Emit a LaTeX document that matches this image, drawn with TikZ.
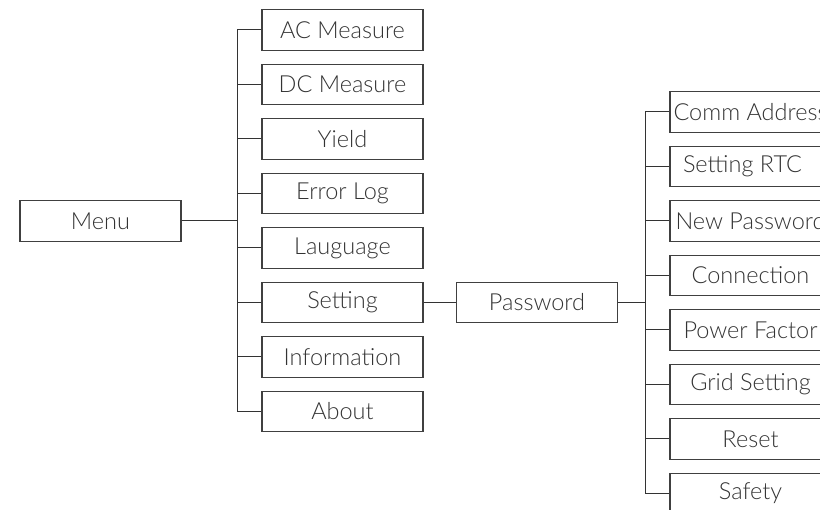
\documentclass[tikz,border=0pt]{standalone}
\usepackage{fontspec}
\setmainfont{Lato Light}
\begin{document}
\begin{tikzpicture}[x=1pt,y=-1pt,
  box/.style={draw=black!75,line width=1.1pt,minimum width=161pt,minimum height=40.5pt,inner sep=0pt,text=black!80,font=\fontsize{23.5}{26}\selectfont},
  link/.style={draw=black!80,line width=1pt}]
\clip (0,0) rectangle (820,510);
\useasboundingbox (0,0) rectangle (820,510);
% level 0
\node[box] (menu) at (100.5,221) {Menu};
% level 1
\node[box] (ac) at (342.5,30) {AC Measure};
\node[box] (dc) at (342.5,84.5) {DC Measure};
\node[box] (yield) at (342.5,139) {Yield};
\node[box] (err) at (342.5,193.5) {Error Log};
\node[box] (lang) at (342.5,248) {Lauguage};
\node[box] (set) at (342.5,302.5) {Setting};
\node[box] (info) at (342.5,357) {Information};
\node[box] (about) at (342.5,411.5) {About};
% password
\node[box] (pwd) at (537,302.5) {Password};
% level 3
\node[box] (comm) at (750.5,112) {Comm Address};
\node[box] (rtc) at (750.5,166.5) {\hspace*{-16pt}Setting RTC};
\node[box] (newp) at (750.5,221) {New Password};
\node[box] (conn) at (750.5,275.5) {Connection};
\node[box] (pf) at (750.5,330) {Power Factor};
\node[box] (grid) at (750.5,384.5) {Grid Setting};
\node[box] (reset) at (750.5,439) {Reset};
\node[box] (safety) at (750.5,493.5) {Safety};
% trunks
\coordinate (t1) at (237,0);
\coordinate (t2) at (645,0);
\draw[link] (menu.east) -- (t1 |- menu.east);
\draw[link] (t1 |- ac.west) -- (t1 |- about.west);
\foreach \n in {ac,dc,yield,err,lang,set,info,about}
  \draw[link] (t1 |- \n.west) -- (\n.west);
\draw[link] (set.east) -- (pwd.west);
\draw[link] (pwd.east) -- (t2 |- pwd.east);
\draw[link] (t2 |- comm.west) -- (t2 |- safety.west);
\foreach \n in {comm,rtc,newp,conn,pf,grid,reset,safety}
  \draw[link] (t2 |- \n.west) -- (\n.west);
\end{tikzpicture}
\end{document}
